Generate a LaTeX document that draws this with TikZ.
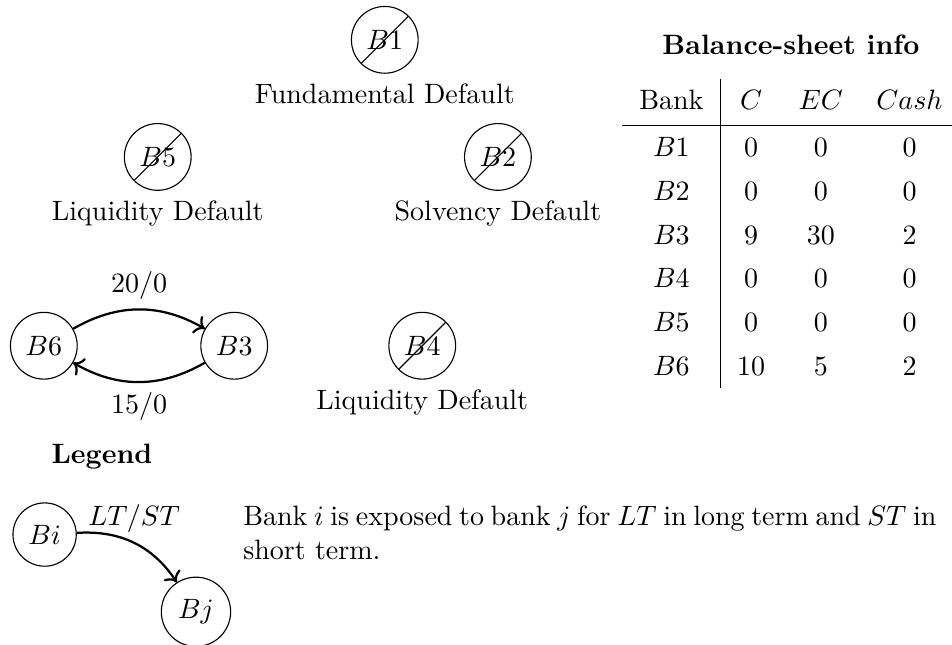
\documentclass[tikz,border=0pt]{standalone}
\usepackage{tikz}
\usetikzlibrary{positioning, arrows.meta}

\begin{document}
\begin{tikzpicture}[node distance=0pt,
    bank/.style={circle, draw, inner sep=3.33pt},
    failed/.style={bank, path picture={\draw (path picture bounding box.south west) -- (path picture bounding box.north east);}},
    expo/.style={->, thick}]
  \useasboundingbox (0,0) rectangle (11.95,-8.09);
  % defaulted banks and network
  \node[failed] (B1) at (4.83,-0.50) {$B1$};
  \node (B1lab) [below=of B1] {Fundamental Default};
  \node[failed] (B5) at (1.98,-1.97) {$B5$};
  \node (B5lab) [below=of B5] {Liquidity Default};
  \node[failed] (B2) at (6.25,-1.97) {$B2$};
  \node (B2lab) [below=of B2] {Solvency Default};
  \node[bank] (B6) at (0.55,-4.34) {$B6$};
  \node[bank] (B3) at (2.94,-4.34) {$B3$};
  \node[failed] (B4) at (5.30,-4.34) {$B4$};
  \node (B4lab) [below=of B4] {Liquidity Default};
  \draw[expo] (B6) to[bend left=30] node[midway, above] {$20/0$} (B3);
  \draw[expo] (B3) to[bend left=30] node[midway, below] {$15/0$} (B6);
  % legend
  \node (legend) at (1.28,-5.73) {\textbf{Legend}};
  \node[bank] (Bi) at (0.56,-6.71) {$Bi$};
  \node[bank] (Bj) at (2.46,-7.68) {$Bj$};
  \draw[expo] (Bi) to[bend left=30] node[midway, above] {$LT/ST$} (Bj);
  \node (legendtext) [anchor=north west, text width=8.7cm, align=justify] at (2.93,-6.23)
    {Bank $i$ is exposed to bank $j$ for $LT$ in long term and $ST$ in\linebreak short term.};
  % balance sheet
  \node (sheet) [anchor=north east, inner sep=0pt] at (12.05,-0.98) {%
    \renewcommand{\arraystretch}{1.3}%
    \begin{tabular}{c|ccc}
      Bank & $C$ & $EC$ & $Cash$ \\[1pt] \hline
      $B1$ & 0 & 0 & 0 \\
      $B2$ & 0 & 0 & 0 \\
      $B3$ & 9 & 30 & 2 \\
      $B4$ & 0 & 0 & 0 \\
      $B5$ & 0 & 0 & 0 \\
      $B6$ & 10 & 5 & 2 \\
    \end{tabular}};
  \node (sheettitle) [above=5pt of sheet] {\textbf{Balance-sheet info}};
\end{tikzpicture}
\end{document}
